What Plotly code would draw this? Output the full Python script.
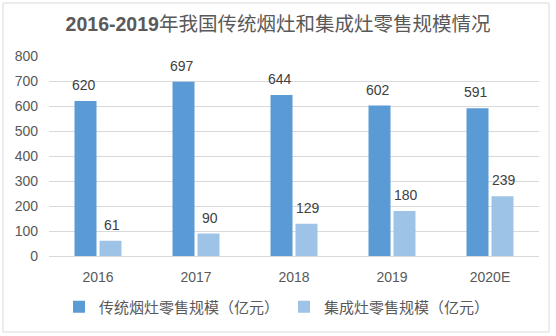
import plotly.graph_objects as go

categories = ["2016", "2017", "2018", "2019", "2020E"]
traditional = [620, 697, 644, 602, 591]
integrated = [61, 90, 129, 180, 239]
series_names = ["传统烟灶零售规模（亿元）", "集成灶零售规模（亿元）"]
y_ticks = [0, 100, 200, 300, 400, 500, 600, 700, 800]

FONT = "Liberation Sans, Noto Sans CJK SC, sans-serif"
TXT = "#595959"
LBL = "#404040"

fig = go.Figure()
fig.add_trace(go.Bar(
    x=categories, y=traditional, name=series_names[0],
    marker=dict(color="#5B9BD5", line=dict(width=0)),
))
fig.add_trace(go.Bar(
    x=categories, y=integrated, name=series_names[1],
    marker=dict(color="#9DC3E6", line=dict(width=0)),
))

annotations = []
for series, shift in ((traditional, -14), (integrated, 14)):
    for i, v in enumerate(series):
        annotations.append(dict(
            x=i, y=v, xref="x", yref="y", text=str(v), showarrow=False,
            xshift=shift, yshift=16, yanchor="middle",
            font=dict(size=14, color=LBL, family=FONT),
        ))

L, R, T, B = 49, 17, 56, 80
W, H = 556, 336
pw, ph = W - L - R, H - T - B

def px_x(x):
    return (x - L) / pw

def px_y(y):
    return (H - B - y) / ph

fig.update_layout(
    width=W, height=H,
    margin=dict(l=L, r=R, t=T, b=B, pad=0),
    paper_bgcolor="white", plot_bgcolor="white",
    barmode="group", bargap=0.49, bargroupgap=0.12,
    font=dict(family=FONT, color=TXT, size=14),
    title=dict(
        text="<b>2016-2019</b>年我国传统烟灶和集成灶零售规模情况",
        x=278 / W, xref="container", xanchor="center",
        y=1 - 24 / H, yref="container", yanchor="middle",
        font=dict(size=19.5, color=TXT, family="Liberation Sans, Noto Sans CJK SC"),
    ),
    xaxis=dict(
        type="category", range=[-0.5, len(categories) - 0.5],
        showgrid=False, showline=True, linecolor="#D9D9D9", linewidth=1,
        ticks="", tickfont=dict(size=14, color=TXT), ticklabelstandoff=8,
    ),
    yaxis=dict(
        range=[0, 800], tickvals=y_ticks, showgrid=True, gridcolor="#D9D9D9",
        gridwidth=1, zeroline=False, showline=False, ticks="",
        tickfont=dict(size=14, color=TXT), ticklabelstandoff=10,
    ),
    legend=dict(
        orientation="h", x=px_x(277), xanchor="center",
        y=px_y(307), yanchor="middle",
        font=dict(size=15, color=TXT), itemwidth=30, traceorder="normal",
    ),
    annotations=annotations,
    shapes=[dict(
        type="rect", xref="paper", yref="paper",
        x0=px_x(3), x1=px_x(549), y0=px_y(332), y1=px_y(3),
        line=dict(color="#D9D9D9", width=1), fillcolor="rgba(0,0,0,0)", layer="below",
    )],
)

fig.write_html("out.html")
